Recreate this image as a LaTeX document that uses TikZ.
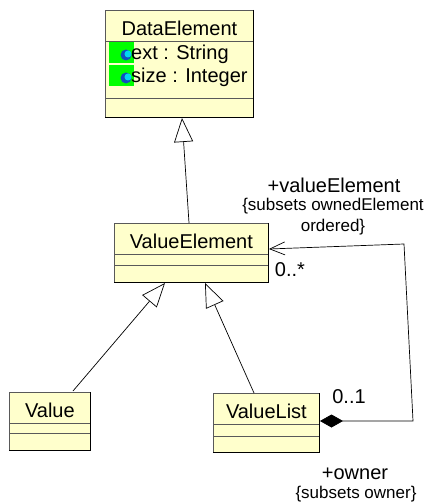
\documentclass[tikz,border=0pt]{standalone}
\usepackage{fontspec}
\setmainfont{Liberation Sans}
\usetikzlibrary{arrows.meta}
\definecolor{classfill}{RGB}{255,255,204}
\definecolor{iconbg}{RGB}{0,255,0}
\definecolor{iconblue}{RGB}{15,80,190}
\definecolor{iconcyan}{RGB}{0,215,240}
\begin{document}
\begin{tikzpicture}[x=1pt, y=-1pt]
\tikzstyle{cell}=[draw=black!65, fill=classfill, line width=.8pt, inner sep=0pt, anchor=north west, font=\fontsize{20}{22}\selectfont]
\tikzstyle{head}=[cell, minimum height=31pt, text height=19pt, text depth=0pt]
\tikzstyle{lbl}=[inner sep=0pt, align=center, font=\fontsize{20}{22}\selectfont]
\tikzstyle{note}=[inner sep=0pt, align=center, font=\fontsize{17}{20}\selectfont]
\tikzstyle{icon}=[fill=iconbg, minimum width=25pt, minimum height=21pt, inner sep=0pt, anchor=north west]
\tikzstyle{gen}=[-{Triangle[open, length=24pt, width=19pt, fill=white]}, line width=.7pt]
\useasboundingbox (0,0) rectangle (430,502);
% DataElement
\node[head, minimum width=148pt] (DE) at (105,10) {DataElement};
\node[cell, minimum width=148pt, minimum height=57pt] (DEattr) at (105,41) {};
\node[cell, minimum width=148pt, minimum height=19pt] (DEop) at (105,98) {};
\node[icon] (ic1) at (109,42) {};
\node[icon] (ic2) at (109,65) {};
\node[circle, fill=iconblue, inner sep=0pt, minimum width=11pt] (dot1) at (126,55) {};
\node[circle, fill=iconblue, inner sep=0pt, minimum width=11pt] (dot2) at (126,78) {};
\node[circle, fill=iconcyan, inner sep=0pt, minimum width=7pt] (core1) at (128,54) {};
\node[circle, fill=iconcyan, inner sep=0pt, minimum width=7pt] (core2) at (128,77) {};
\node[lbl, anchor=west] (ext) at (131,54) {ext : String};
\node[lbl, anchor=west] (size) at (131,77) {size : Integer};
% ValueElement
\node[head, minimum width=154pt] (VE) at (114,223) {ValueElement};
\node[cell, minimum width=154pt, minimum height=11pt] (VEattr) at (114,254) {};
\node[cell, minimum width=154pt, minimum height=17pt] (VEop) at (114,265) {};
% Value
\node[head, minimum width=81pt] (V) at (9,392) {Value};
\node[cell, minimum width=81pt, minimum height=10pt] (Vattr) at (9,423) {};
\node[cell, minimum width=81pt, minimum height=17pt] (Vop) at (9,433) {};
% ValueList
\node[head, minimum width=106pt] (VL) at (213,393) {ValueList};
\node[cell, minimum width=106pt, minimum height=12pt] (VLattr) at (213,424) {};
\node[cell, minimum width=106pt, minimum height=16pt] (VLop) at (213,436) {};
% darker lower edges
\draw[line width=1.2pt] (DE.north east) -- (DEop.south east) -- (DEop.south west);
\draw[line width=1.2pt] (VE.north east) -- (VEop.south east) -- (VEop.south west);
\draw[line width=1.2pt] (V.north east) -- (Vop.south east) -- (Vop.south west);
\draw[line width=1.2pt] (VL.north east) -- (VLop.south east) -- (VLop.south west);
% ends of the connectors
\coordinate (g1a) at (189,223);
\coordinate (g1b) at (182,118);
\coordinate (g2a) at (73,391);
\coordinate (g2b) at (165,283);
\coordinate (g3a) at (254,393);
\coordinate (g3b) at (205,283);
\coordinate (c1) at (413,421);
\coordinate (c2) at (404,244);
\coordinate (c3) at (269,249);
\coordinate (c0) at (320,421);
\draw[gen] (g1a) -- (g1b);
\draw[gen] (g2a) -- (g2b);
\draw[gen] (g3a) -- (g3b);
\draw[line width=.7pt, {Diamond[length=23pt, width=13pt]}-{Straight Barb[length=15pt, width=13pt, line width=.7pt]}] (c0) -- (c1) -- (c2) -- (c3);
% role labels
\node[lbl] (role1) at (334,185) {+valueElement};
\node[note] (sub1) at (333,206) {\{subsets ownedElement};
\node[note] (sub2) at (333,227) {ordered\}};
\node[lbl] (mult1) at (290,270) {0..*};
\node[lbl] (mult2) at (349,397) {0..1};
\node[lbl] (role2) at (355,474) {+owner};
\node[note] (sub3) at (356,494) {\{subsets owner\}};
\end{tikzpicture}
\end{document}
